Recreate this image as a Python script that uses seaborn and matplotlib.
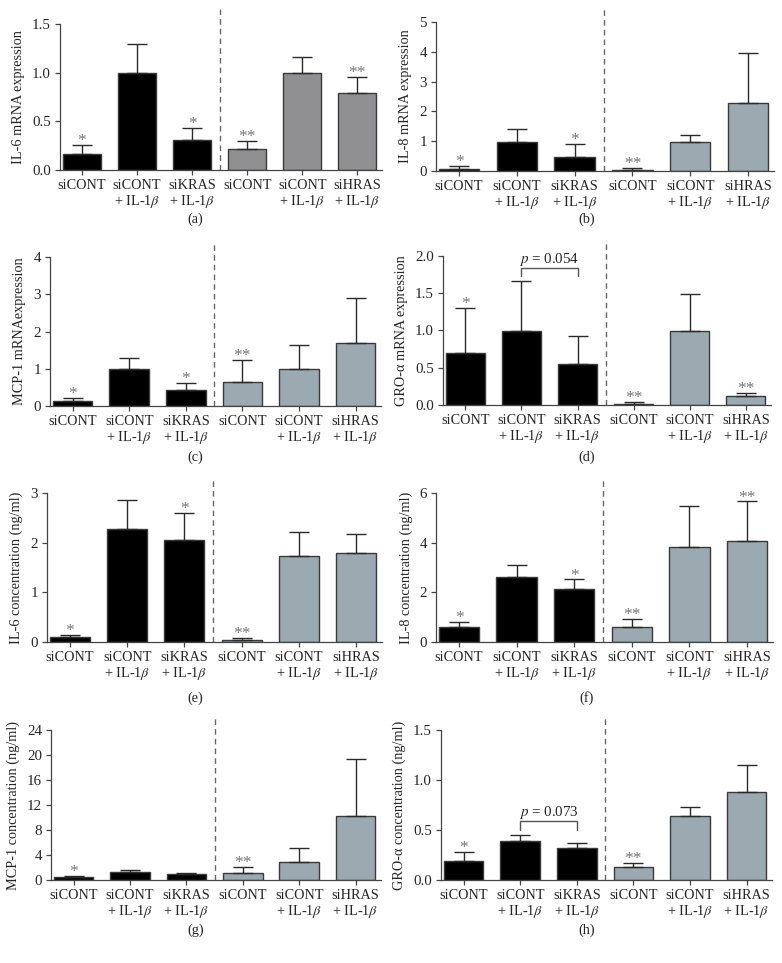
import numpy as np
import pandas as pd
import matplotlib
matplotlib.use("Agg")
import matplotlib.pyplot as plt
import seaborn as sns

# ---------------------------------------------------------------
# Dados (média e topo da barra de erro)
# ---------------------------------------------------------------
categorias = ["siCONT", "siCONT\n+ IL-1$\\beta$", "siKRAS\n+ IL-1$\\beta$",
              "siCONT", "siCONT\n+ IL-1$\\beta$", "siHRAS\n+ IL-1$\\beta$"]
grupos = ["KRAS", "KRAS", "KRAS", "HRAS", "HRAS", "HRAS"]

il6_mrna = [0.165, 0.995, 0.31, 0.22, 1.0, 0.795]
il6_mrna_top = [0.255, 1.29, 0.43, 0.30, 1.165, 0.96]
il8_mrna = [0.08, 0.98, 0.46, 0.03, 0.98, 2.29]
il8_mrna_top = [0.17, 1.40, 0.90, 0.09, 1.22, 3.95]
mcp1_mrna = [0.14, 0.98, 0.42, 0.64, 0.98, 1.70]
mcp1_mrna_top = [0.21, 1.28, 0.63, 1.23, 1.65, 2.90]
gro_mrna = [0.70, 0.99, 0.55, 0.02, 0.99, 0.12]
gro_mrna_top = [1.30, 1.67, 0.92, 0.04, 1.49, 0.16]
il6_conc = [0.10, 2.27, 2.05, 0.05, 1.73, 1.79]
il6_conc_top = [0.15, 2.86, 2.60, 0.09, 2.22, 2.17]
il8_conc = [0.62, 2.61, 2.13, 0.60, 3.84, 4.07]
il8_conc_top = [0.82, 3.09, 2.52, 0.92, 5.46, 5.66]
mcp1_conc = [0.43, 1.33, 0.96, 1.07, 2.93, 10.3]
mcp1_conc_top = [0.6, 1.6, 1.2, 2.08, 5.2, 19.4]
gro_conc = [0.19, 0.39, 0.325, 0.133, 0.64, 0.88]
gro_conc_top = [0.28, 0.455, 0.375, 0.173, 0.73, 1.155]

# significância por barra
stars_a = ["*", "", "*", "**", "", "**"]
stars_b = ["*", "", "*", "**", "", ""]
stars_c = ["*", "", "*", "**", "", ""]
stars_d = ["*", "", "", "**", "", "**"]
stars_e = ["*", "", "*", "**", "", ""]
stars_f = ["*", "", "*", "**", "", "**"]
stars_g = ["*", "", "", "**", "", ""]
stars_h = ["*", "", "", "**", "", ""]

# ---------------------------------------------------------------
sns.set_theme(style="ticks")
plt.rcParams["font.family"] = ["Liberation Serif", "DejaVu Serif"]
plt.rcParams["mathtext.fontset"] = "stix"

W, H = 782, 963
fig = plt.figure(figsize=(W / 100, H / 100), dpi=100)

COR_CINZA = "#8f8f93"
COR_AZUL = "#98aab3"
FS = 10.3


def painel(box, medias, topos, stars, ylabel, yticks, fmt, letra, cor_dir,
           letra_y, bracket=None):
    left, right, top, bottom = box
    ax = fig.add_axes([left / W, 1 - bottom / H, (right - left) / W, (bottom - top) / H])
    df = pd.DataFrame({"pos": range(6), "val": medias, "grupo": grupos})
    sns.barplot(data=df, x="pos", y="val", hue="grupo", dodge=False, width=0.7,
                palette={"KRAS": "black", "HRAS": cor_dir}, edgecolor="#3a3a3a",
                linewidth=1.0, legend=False, ax=ax)
    err = np.array(topos) - np.array(medias)
    ax.errorbar(range(6), medias, yerr=[np.zeros(6), err], fmt="none",
                ecolor="#2a2a2a", elinewidth=1.0, capsize=7.5, capthick=1.0, zorder=1)
    for i, s in enumerate(stars):
        if s:
            ax.annotate(s, (i, topos[i]), xytext=(0, -3), textcoords="offset points",
                        ha="center", va="bottom", fontsize=12.5, color="#777777")
    ax.set_ylim(yticks[0], yticks[-1])
    ax.set_xlim(-0.4, 5.45)
    ax.set_yticks(yticks)
    ax.set_yticklabels([fmt.format(t) for t in yticks], fontsize=FS + 0.5)
    ax.set_xticks(range(6))
    ax.set_xticklabels(categorias, fontsize=FS, linespacing=1.12)
    ax.set_xlabel("")
    ax.set_ylabel(ylabel, fontsize=FS, labelpad=5)
    ax.axvline(2.5, ymin=0, ymax=1.1, color="#666666", lw=1.0, ls=(0, (4, 3)),
               clip_on=False)
    for sp in ["top", "right"]:
        ax.spines[sp].set_visible(False)
    for sp in ["left", "bottom"]:
        ax.spines[sp].set_color("#444444")
        ax.spines[sp].set_linewidth(0.9)
    ax.tick_params(axis="both", length=3.5, width=0.9, color="#444444", pad=3)
    if bracket is not None:
        y_top, y_low, texto = bracket
        ax.plot([1, 1, 2, 2], [y_low, y_top, y_top, y_low], color="#555555", lw=1.0)
        ax.text(1.5, y_top, texto, ha="center", va="bottom", fontsize=FS + 0.5)
    cx = 195.5 if left < 391 else 586.5
    fig.text(cx / W, 1 - letra_y / H, letra, ha="center", va="center", fontsize=FS)
    return ax


painel((60, 382, 24, 170), il6_mrna, il6_mrna_top, stars_a, "IL-6 mRNA expression",
       [0, 0.5, 1.0, 1.5], "{:.1f}", "(a)", COR_CINZA, 219)
painel((436, 774, 22, 171), il8_mrna, il8_mrna_top, stars_b, "IL-8 mRNA expression",
       [0, 1, 2, 3, 4, 5], "{:.0f}", "(b)", COR_AZUL, 219)
painel((50, 381, 257, 406), mcp1_mrna, mcp1_mrna_top, stars_c, "MCP-1 mRNAexpression",
       [0, 1, 2, 3, 4], "{:.0f}", "(c)", COR_AZUL, 457)
painel((443, 771, 256, 405), gro_mrna, gro_mrna_top, stars_d, "GRO-α mRNA expression",
       [0, 0.5, 1.0, 1.5, 2.0], "{:.1f}", "(d)", COR_AZUL, 457,
       bracket=(1.84, 1.73, "$p$ = 0.054"))
painel((47, 382, 493, 642), il6_conc, il6_conc_top, stars_e, "IL-6 concentration (ng/ml)",
       [0, 1, 2, 3], "{:.0f}", "(e)", COR_AZUL, 698)
painel((436, 773, 493, 642), il8_conc, il8_conc_top, stars_f, "IL-8 concentration (ng/ml)",
       [0, 2, 4, 6], "{:.0f}", "(f)", COR_AZUL, 698)
painel((51, 381, 730, 880), mcp1_conc, mcp1_conc_top, stars_g, "MCP-1 concentration (ng/ml)",
       [0, 4, 8, 12, 16, 20, 24], "{:.0f}", "(g)", COR_AZUL, 930)
painel((441, 772, 730, 880), gro_conc, gro_conc_top, stars_h, "GRO-α concentration (ng/ml)",
       [0, 0.5, 1.0, 1.5], "{:.1f}", "(h)", COR_AZUL, 930,
       bracket=(0.59, 0.505, "$p$ = 0.073"))

fig.savefig("out.png", dpi=100, facecolor="white")
